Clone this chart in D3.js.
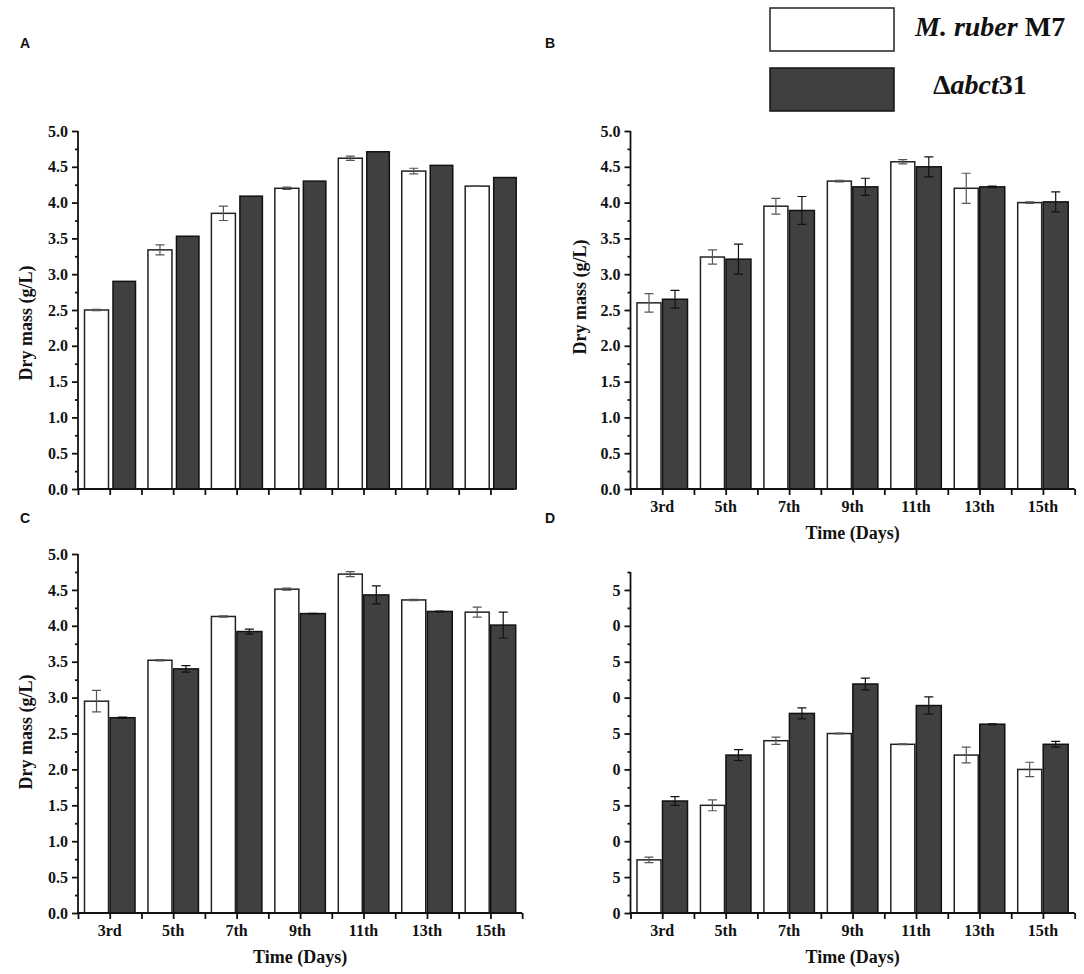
<!DOCTYPE html>
<html>
<head>
<meta charset="utf-8">
<script src="https://cdn.jsdelivr.net/npm/d3@7"></script>
<style>
  body { margin: 0; background: #fff; }
  svg { display: block; }
  text { font-family: "Liberation Serif", "Times New Roman", serif; font-weight: bold; fill: #111; }
  .letter { font-family: "Liberation Sans", Arial, sans-serif; font-size: 14px; }
  .tick text { font-size: 16px; }
  .axis path, .axis line { stroke: #111; stroke-width: 1.8; }
</style>
</head>
<body>
<svg id="chart" width="1084" height="974"></svg>
<script>
// categories
const days = ['3rd', '5th', '7th', '9th', '11th', '13th', '15th'];

// panel A
const aWild = [2.50, 3.34, 3.85, 4.20, 4.62, 4.44, 4.23];
const aWildErr = [0.01, 0.07, 0.10, 0.015, 0.03, 0.04, 0.005];
const aMutant = [2.90, 3.53, 4.09, 4.30, 4.71, 4.52, 4.35];
const aMutantErr = [0, 0, 0, 0, 0, 0, 0];

// panel B
const bWild = [2.60, 3.24, 3.95, 4.30, 4.57, 4.20, 4.00];
const bWildErr = [0.13, 0.10, 0.11, 0.01, 0.03, 0.21, 0.01];
const bMutant = [2.65, 3.21, 3.89, 4.22, 4.50, 4.22, 4.01];
const bMutantErr = [0.125, 0.21, 0.195, 0.12, 0.14, 0.01, 0.14];

// panel C
const cWild = [2.95, 3.52, 4.13, 4.51, 4.72, 4.36, 4.19];
const cWildErr = [0.15, 0.01, 0.01, 0.015, 0.035, 0.01, 0.07];
const cMutant = [2.72, 3.40, 3.92, 4.17, 4.43, 4.20, 4.01];
const cMutantErr = [0.01, 0.045, 0.035, 0.005, 0.125, 0.005, 0.18];

// panel D (tick labels are cut off in the source, only last digit shows)
const dWild = [7.4, 15.0, 24.0, 25.0, 23.5, 22.0, 20.0];
const dWildErr = [0.37, 0.76, 0.5, 0.05, 0.05, 1.1, 1.0];
const dMutant = [15.6, 22.0, 27.8, 31.9, 28.9, 26.3, 23.5];
const dMutantErr = [0.6, 0.76, 0.76, 0.83, 1.2, 0.05, 0.4];

const massTicks = [0, 0.5, 1.0, 1.5, 2.0, 2.5, 3.0, 3.5, 4.0, 4.5, 5.0];
const massMinor = [0.25, 0.75, 1.25, 1.75, 2.25, 2.75, 3.25, 3.75, 4.25, 4.75];
const dTicks = [0, 5, 10, 15, 20, 25, 30, 35, 40, 45];
const dMinor = [2.5, 7.5, 12.5, 17.5, 22.5, 27.5, 32.5, 37.5, 42.5, 47.5];

const yTitle = 'Dry mass (g/L)';
const xTitle = 'Time (Days)';

const G = 63.45; // width of one day group

const panels = [
  { letter: 'A', lx: 20, ly: 48, wild: aWild, wildErr: aWildErr, mut: aMutant, mutErr: aMutantErr,
    x0: 78, xEnd: 514, yTop: 131, yBot: 489, yMax: 5, ticks: massTicks, minor: massMinor,
    fmt: d3.format('.1f'), labels: false, ytx: 32, yty: 323, wOff: 6.5, wW: 24, mOff: 35, mW: 22.5 },
  { letter: 'B', lx: 545, ly: 48, wild: bWild, wildErr: bWildErr, mut: bMutant, mutErr: bMutantErr,
    x0: 630.5, xEnd: null, yTop: 131, yBot: 489, yMax: 5, ticks: massTicks, minor: massMinor,
    fmt: d3.format('.1f'), labels: true, ytx: 586, yty: 297, wOff: 6.5, wW: 24, mOff: 32, mW: 25 },
  { letter: 'C', lx: 20, ly: 523, wild: cWild, wildErr: cWildErr, mut: cMutant, mutErr: cMutantErr,
    x0: 78, xEnd: null, yTop: 554, yBot: 913, yMax: 5, ticks: massTicks, minor: massMinor,
    fmt: d3.format('.1f'), labels: true, ytx: 32, yty: 732, wOff: 6.5, wW: 24, mOff: 32, mW: 25 },
  { letter: 'D', lx: 545, ly: 523, wild: dWild, wildErr: dWildErr, mut: dMutant, mutErr: dMutantErr,
    x0: 630.5, xEnd: null, yTop: 572, yBot: 913, yMax: 47.5, ticks: dTicks, minor: dMinor,
    fmt: d => String(d).slice(-1), labels: true, ytx: null, yty: null, wOff: 6.5, wW: 24, mOff: 32, mW: 25 }
];

const svg = d3.select('#chart');

function drawPanel(p) {
  const g = svg.append('g');
  const xFull = p.x0 + days.length * G;
  const xEnd = p.xEnd || xFull;

  const x = d3.scaleBand().domain(days).range([p.x0, xFull]).padding(0);
  const y = d3.scaleLinear().domain([0, p.yMax]).range([p.yBot, p.yTop]);
  const half = d3.scaleLinear().domain([0, days.length]).range([p.x0, xFull]);

  // bars
  const rows = days.map((d, i) => ({ day: d, w: p.wild[i], we: p.wildErr[i], m: p.mut[i], me: p.mutErr[i] }));

  g.selectAll('rect.wild').data(rows).join('rect')
    .attr('x', d => x(d.day) + p.wOff)
    .attr('y', d => y(d.w))
    .attr('width', p.wW)
    .attr('height', d => y(0) - y(d.w))
    .attr('fill', '#fff').attr('stroke', '#222').attr('stroke-width', 1.5);

  g.selectAll('rect.mut').data(rows).join('rect')
    .attr('x', d => x(d.day) + p.mOff)
    .attr('y', d => y(d.m))
    .attr('width', p.mW)
    .attr('height', d => y(0) - y(d.m))
    .attr('fill', '#404040').attr('stroke', '#111').attr('stroke-width', 1.5);

  // error bars
  function errBar(cx, v, e, color) {
    if (!e) return;
    const path = d3.path();
    path.moveTo(cx, y(v + e)); path.lineTo(cx, y(v - e));
    path.moveTo(cx - 4.5, y(v + e)); path.lineTo(cx + 4.5, y(v + e));
    path.moveTo(cx - 4.5, y(v - e)); path.lineTo(cx + 4.5, y(v - e));
    g.append('path').attr('d', path.toString())
      .attr('fill', 'none').attr('stroke', color).attr('stroke-width', 1.2);
  }
  rows.forEach(d => {
    errBar(x(d.day) + p.wOff + p.wW / 2, d.w, d.we, '#555');
    errBar(x(d.day) + p.mOff + p.mW / 2, d.m, d.me, '#111');
  });

  // y axis
  const yAxis = g.append('g').attr('class', 'axis')
    .attr('transform', `translate(${p.x0},0)`)
    .call(d3.axisLeft(y).tickValues(p.ticks).tickFormat(p.fmt).tickSize(6).tickPadding(4).tickSizeOuter(0));
  yAxis.select('.domain').attr('d', `M0,${y(p.yMax)}V${y(0)}`);

  g.append('g').attr('class', 'axis')
    .attr('transform', `translate(${p.x0},0)`)
    .call(d3.axisLeft(y).tickValues(p.minor).tickFormat('').tickSize(3).tickSizeOuter(0))
    .select('.domain').remove();

  // x axis (ticks at group edges and centres)
  const halfTicks = d3.range(0, days.length * 2 + 1).map(k => k / 2).filter(v => half(v) <= xEnd + 0.5);
  const xAxis = g.append('g').attr('class', 'axis')
    .attr('transform', `translate(0,${p.yBot})`)
    .call(d3.axisBottom(half).tickValues(halfTicks).tickFormat('').tickSize(6).tickSizeOuter(0));
  xAxis.select('.domain').attr('d', `M${p.x0},0H${xEnd}`);

  if (p.labels) {
    const lab = g.append('g')
      .attr('transform', `translate(0,${p.yBot})`)
      .call(d3.axisBottom(x).tickSize(0));
    lab.select('.domain').remove();
    lab.selectAll('text').attr('y', 23).attr('dy', null).attr('font-size', 16).attr('fill', '#111');

    g.append('text')
      .attr('x', (p.x0 + xFull) / 2)
      .attr('y', p.yBot + 50)
      .attr('text-anchor', 'middle')
      .attr('font-size', 18)
      .text(xTitle);
  }

  if (p.ytx !== null) {
    g.append('text')
      .attr('transform', `translate(${p.ytx},${p.yty}) rotate(-90)`)
      .attr('text-anchor', 'middle')
      .attr('font-size', 18)
      .text(yTitle);
  }

  g.append('text').attr('class', 'letter')
    .attr('x', p.lx).attr('y', p.ly)
    .text(p.letter);
}

panels.forEach(drawPanel);

// legend
const legend = svg.append('g');
legend.append('rect').attr('x', 770).attr('y', 8).attr('width', 124).attr('height', 43)
  .attr('fill', '#fff').attr('stroke', '#222').attr('stroke-width', 1.5);
legend.append('rect').attr('x', 770).attr('y', 68).attr('width', 124).attr('height', 43)
  .attr('fill', '#404040').attr('stroke', '#111').attr('stroke-width', 1.5);

const t1 = legend.append('text').attr('x', 915).attr('y', 36).attr('font-size', 28);
t1.append('tspan').attr('font-style', 'italic').text('M. ruber');
t1.append('tspan').text(' M7');

const t2 = legend.append('text').attr('x', 933).attr('y', 94).attr('font-size', 28);
t2.append('tspan').text('Δ');
t2.append('tspan').attr('font-style', 'italic').text('abct');
t2.append('tspan').text('31');
</script>
</body>
</html>
